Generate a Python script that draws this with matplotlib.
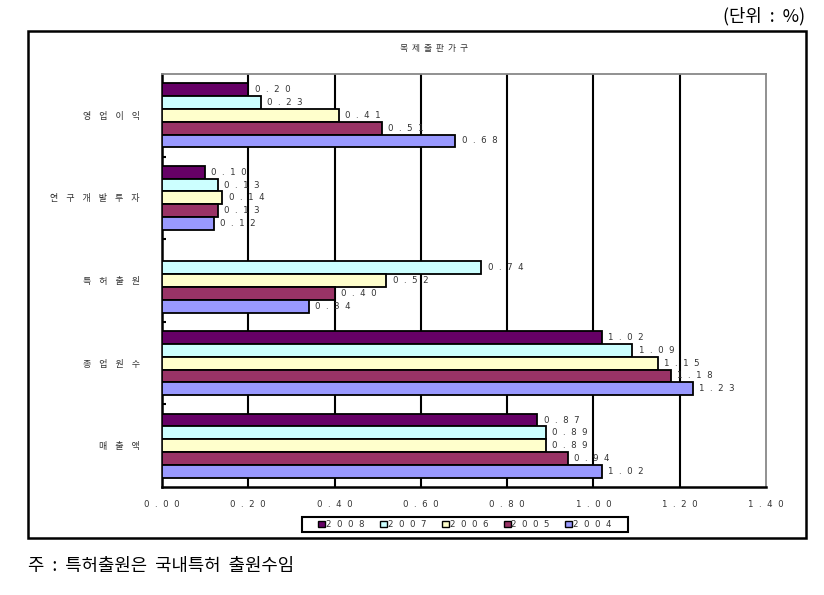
import matplotlib
matplotlib.use("Agg")
import matplotlib.pyplot as plt
from matplotlib.patches import Rectangle, Patch
import numpy as np

plt.rcParams['font.family'] = ['Noto Sans CJK KR', 'DejaVu Sans']

categories = ["영업이익", "연구개발투자", "특허출원", "종업원수", "매출액"]
years = ["2008", "2007", "2006", "2005", "2004"]
v2008 = [0.20, 0.10, None, 1.02, 0.87]
v2007 = [0.23, 0.13, 0.74, 1.09, 0.89]
v2006 = [0.41, 0.14, 0.52, 1.15, 0.89]
v2005 = [0.51, 0.13, 0.40, 1.18, 0.94]
v2004 = [0.68, 0.12, 0.34, 1.23, 1.02]
series = [v2008, v2007, v2006, v2005, v2004]
colors = ["#660066", "#CCFFFF", "#FFFFCC", "#993366", "#9999FF"]
xticks = [0.0, 0.2, 0.4, 0.6, 0.8, 1.0, 1.2, 1.4]
title = "목제출판가구"

def sp(s, n=2):
    return (" " * n).join(list(s))

W, H = 824, 595
fig = plt.figure(figsize=(W / 100, H / 100), dpi=100)

# outer box
fig.patches.append(Rectangle((28 / W, 1 - 538 / H), (806 - 28) / W, (538 - 31) / H,
                             transform=fig.transFigure, fill=False, edgecolor="black",
                             linewidth=1.8, zorder=0))

ax = fig.add_axes([162 / W, 1 - 487 / H, (766 - 162) / W, (487 - 74) / H])
h = 0.155
y = np.arange(len(categories))
numfont = dict(family="DejaVu Sans", fontsize=6.2, color="#333333")
for j, (vals, c) in enumerate(zip(series, colors)):
    for i, v in enumerate(vals):
        if v is None:
            continue
        yy = y[i] + (j - 2) * h
        ax.barh(yy, v, height=h, color=c, edgecolor="black", linewidth=1.3, zorder=3)
        ax.annotate(sp(f"{v:.2f}"), (v, yy), xytext=(4.5, 0), textcoords="offset points",
                    va="center", ha="left", zorder=4, **numfont)

ax.set_xlim(0, 1.4)
ax.set_ylim(4.5, -0.5)
ax.set_xticks(xticks)
ax.set_xticklabels([sp(f"{t:.2f}") for t in xticks], **numfont)
ax.tick_params(axis="x", length=0, pad=9.5)
ax.set_yticks(y)
ax.set_yticklabels([sp(c, 4) for c in categories], fontsize=6.5, color="#333333")
ax.tick_params(axis="y", which="major", length=0, pad=16)
ax.set_yticks(np.arange(0.5, 4.5, 1.0), minor=True)
ax.tick_params(axis="y", which="minor", direction="in", length=3, width=1.5)
for t in xticks[1:-1]:
    ax.axvline(t, color="black", linewidth=1.5, zorder=1)
ax.spines["left"].set_linewidth(1.8)
ax.spines["bottom"].set_linewidth(1.8)
ax.spines["top"].set_color("#888888")
ax.spines["top"].set_linewidth(1.3)
ax.spines["right"].set_color("#888888")
ax.spines["right"].set_linewidth(1.3)

fig.text(434 / W, 1 - 49 / H, sp(title, 2), ha="center", va="center", fontsize=6.3, color="#333333")
fig.text(805 / W, 1 - 16 / H, "(단위  :  %)", ha="right", va="center", fontsize=12.8)
fig.text(28 / W, 1 - 566 / H, "주  :  특허출원은  국내특허  출원수임", ha="left", va="center", fontsize=12.8)

# legend
fig.patches.append(Rectangle((302 / W, 1 - 532 / H), (628 - 302) / W, (532 - 517) / H,
                             transform=fig.transFigure, fill=False, edgecolor="black",
                             linewidth=1.5, zorder=5))
handles = [Patch(facecolor=c, edgecolor="black", linewidth=1.0) for c in colors]
leg = fig.legend(handles, [sp(yr) for yr in years], loc="center", ncol=5,
                 bbox_to_anchor=(465 / W, 1 - 524.5 / H),
                 prop=dict(family="DejaVu Sans", size=6.2),
                 frameon=False, handlelength=0.8, handleheight=0.6, handletextpad=0.1,
                 columnspacing=1.8, borderpad=0.2)
for t in leg.get_texts():
    t.set_color("#333333")

fig.savefig("out.png", dpi=100)
